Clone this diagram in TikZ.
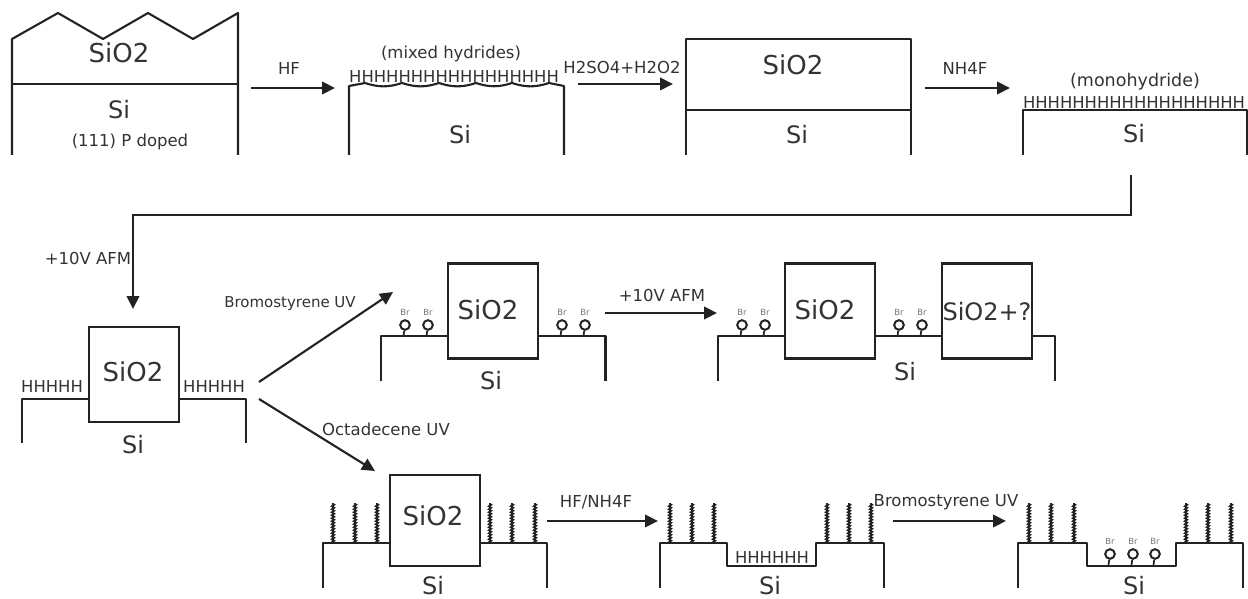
\documentclass[tikz,border=0pt]{standalone}
\usepackage{fontspec}
\setmainfont{DejaVu Sans}
\usetikzlibrary{arrows.meta,decorations.pathmorphing}
\definecolor{ink}{HTML}{222222}
\definecolor{txt}{HTML}{333333}
\definecolor{brc}{HTML}{777777}
\tikzset{
  wall/.style={draw=ink,line width=2.1pt,line join=round},
  oxbox/.style={draw=ink,line width=2.1pt,fill=white,minimum width=90pt,minimum height=95pt,inner sep=0pt},
  step arrow/.style={draw=ink,line width=2.1pt,-{Triangle[length=13pt,width=12.5pt]}},
  big/.style={text=txt,inner sep=0pt,font=\fontsize{26}{26}\selectfont},
  mid/.style={text=txt,inner sep=0pt,font=\fontsize{24}{24}\selectfont},
  small/.style={text=txt,inner sep=0pt,font=\fontsize{16.5}{16.5}\selectfont},
  hyd/.style={text=txt,inner sep=0pt,font=\fontsize{16.4}{16.4}\selectfont},
  brl/.style={text=brc,inner sep=0pt,font=\fontsize{8.5}{9}\selectfont},
  ring/.style={circle,draw=ink,line width=2pt,fill=white,minimum size=9.6pt,inner sep=0pt},
  chain/.style={draw=ink,line width=1.9pt,decorate,decoration={zigzag,amplitude=1.1pt,segment length=3pt}},
}
% bromine group: name, x, ring y
\newcommand{\brgroup}[3]{%
  \node[ring] (#1r) at (#2,#3) {};
  \coordinate (#1s) at (#2-1.5,#3+11);
  \draw[draw=ink,line width=1.7pt] (#1r) -- (#1s);
  \node[brl] (#1t) at (#2,#3-13) {Br};
}
% alkyl chain: name, x, base y
\newcommand{\alkyl}[3]{%
  \coordinate (#1a) at (#2,#3);
  \coordinate (#1b) at (#2,#3-40);
  \draw[chain] (#1a) -- (#1b);
}
\begin{document}
\begin{tikzpicture}[x=1pt,y=-1pt]
\useasboundingbox (0,0) rectangle (1248,599);

% ---------- panel 1
\draw[wall] (12,155) -- (12,39) -- (58,13) -- (103,39) -- (148,13) -- (193,39) -- (238,13) -- (238,155);
\draw[wall] (12,84) -- (238,84);
\node[big] (p1ox) at (119,53) {SiO2};
\node[mid] (p1si) at (119,110) {Si};
\node[small] (p1d) at (130,142) {(111) P doped};

% ---------- panel 2
\draw[wall] (349,155) -- (349,86) -- (365,83)
  to[bend right=18] (402,83) to[bend right=18] (439,83) to[bend right=18] (476,83)
  to[bend right=18] (512,83) to[bend right=18] (549,83) -- (564,86) -- (564,155);
\node[hyd] (p2h) at (454,77) {HHHHHHHHHHHHHHHHH};
\node[small] (p2m) at (451,54) {(mixed hydrides)};
\node[mid] (p2si) at (460,135) {Si};

% ---------- panel 3
\draw[wall] (686,155) -- (686,39) -- (911,39) -- (911,155);
\draw[wall] (686,110) -- (911,110);
\node[big] (p3ox) at (793,65) {SiO2};
\node[mid] (p3si) at (797,135) {Si};

% ---------- panel 4
\draw[wall] (1023,155) -- (1023,110) -- (1247,110) -- (1247,155);
\node[hyd] (p4h) at (1134,103) {HHHHHHHHHHHHHHHHHH};
\node[small,font=\fontsize{17.5}{17.5}\selectfont] (p4m) at (1135,82) {(monohydride)};
\node[mid] (p4si) at (1134,134) {Si};

% ---------- panel 5
\draw[wall] (22,443) -- (22,399) -- (246,399) -- (246,443);
\node[oxbox] (p5b) at (134,374.5) {};
\node[big] (p5ox) at (133,372) {SiO2};
\node[hyd] (p5hl) at (52,387) {HHHHH};
\node[hyd] (p5hr) at (214,387) {HHHHH};
\node[mid] (p5si) at (133,445) {Si};

% ---------- panel 6
\draw[wall] (381,381) -- (381,336) -- (605.5,336) -- (605.5,381);
\node[oxbox] (p6b) at (493,311) {};
\node[big] (p6ox) at (488,310) {SiO2};
\node[mid] (p6si) at (491,381) {Si};
\brgroup{p6a}{405}{325}
\brgroup{p6c}{428}{325}
\brgroup{p6d}{562}{325}
\brgroup{p6e}{585}{325}

% ---------- panel 7
\draw[wall] (718,381) -- (718,336) -- (1055,336) -- (1055,381);
\node[oxbox] (p7b) at (830,311) {};
\node[oxbox] (p7c) at (987,311) {};
\node[big] (p7ox) at (825,310) {SiO2};
\node[big,font=\fontsize{24}{24}\selectfont] (p7q) at (987,312) {SiO2+?};
\node[mid] (p7si) at (905,372) {Si};
\brgroup{p7a}{742}{325}
\brgroup{p7d}{765}{325}
\brgroup{p7e}{899}{325}
\brgroup{p7f}{922}{325}

% ---------- panel 8
\draw[wall] (323,588) -- (323,543) -- (547,543) -- (547,588);
\node[oxbox,minimum height=91pt] (p8b) at (435,520.5) {};
\node[big] (p8ox) at (433,516) {SiO2};
\node[mid] (p8si) at (433,586) {Si};
\alkyl{p8a}{333}{543}
\alkyl{p8c}{355}{543}
\alkyl{p8d}{377}{543}
\alkyl{p8e}{490}{543}
\alkyl{p8f}{512}{543}
\alkyl{p8g}{535}{543}

% ---------- panel 9
\draw[wall] (660,588) -- (660,543) -- (727,543) -- (727,566) -- (816,566) -- (816,543) -- (884,543) -- (884,588);
\node[hyd] (p9h) at (772,558) {HHHHHH};
\node[mid] (p9si) at (770,586) {Si};
\alkyl{p9a}{670}{543}
\alkyl{p9c}{692}{543}
\alkyl{p9d}{714}{543}
\alkyl{p9e}{827}{543}
\alkyl{p9f}{849}{543}
\alkyl{p9g}{871}{543}

% ---------- panel 10
\draw[wall] (1018,588) -- (1018,543) -- (1087,543) -- (1087,566) -- (1176,566) -- (1176,543) -- (1243,543) -- (1243,588);
\node[mid] (p10si) at (1134,586) {Si};
\alkyl{p10a}{1029}{543}
\alkyl{p10c}{1051}{543}
\alkyl{p10d}{1074}{543}
\alkyl{p10e}{1186}{543}
\alkyl{p10f}{1208}{543}
\alkyl{p10g}{1231}{543}
\brgroup{p10h}{1110}{554}
\brgroup{p10i}{1133}{554}
\brgroup{p10j}{1155}{554}

% ---------- arrows
\coordinate (a1s) at (251,88);  \coordinate (a1e) at (335,88);
\draw[step arrow] (a1s) -- (a1e);
\node[small] (a1l) at (289,68) {HF};
\coordinate (a2s) at (578,84);  \coordinate (a2e) at (673,84);
\draw[step arrow] (a2s) -- (a2e);
\node[small] (a2l) at (622,67) {H2SO4+H2O2};
\coordinate (a3s) at (925,88);  \coordinate (a3e) at (1010,88);
\draw[step arrow] (a3s) -- (a3e);
\node[small] (a3l) at (965,68) {NH4F};
\coordinate (a4s) at (1131,175); \coordinate (a4m) at (1131,215);
\coordinate (a4n) at (133,215);  \coordinate (a4e) at (133,309);
\draw[step arrow] (a4s) -- (a4m) -- (a4n) -- (a4e);
\node[small] (a4l) at (88,258) {+10V AFM};
\coordinate (a5s) at (259,382);  \coordinate (a5e) at (393,292);
\draw[step arrow] (a5s) -- (a5e);
\node[small,font=\fontsize{15}{15}\selectfont] (a5l) at (290,304) {Bromostyrene UV};
\coordinate (a6s) at (259,399);  \coordinate (a6e) at (375,471);
\draw[step arrow] (a6s) -- (a6e);
\node[small] (a6l) at (386,429) {Octadecene UV};
\coordinate (a7s) at (605,313);  \coordinate (a7e) at (717,313);
\draw[step arrow] (a7s) -- (a7e);
\node[small] (a7l) at (662,295) {+10V AFM};
\coordinate (a8s) at (547,521);  \coordinate (a8e) at (658,521);
\draw[step arrow] (a8s) -- (a8e);
\node[small] (a8l) at (596,502) {HF/NH4F};
\coordinate (a9s) at (893,521);  \coordinate (a9e) at (1006,521);
\draw[step arrow] (a9s) -- (a9e);
\node[small] (a9l) at (946,502) {Bromostyrene UV};
\end{tikzpicture}
\end{document}
